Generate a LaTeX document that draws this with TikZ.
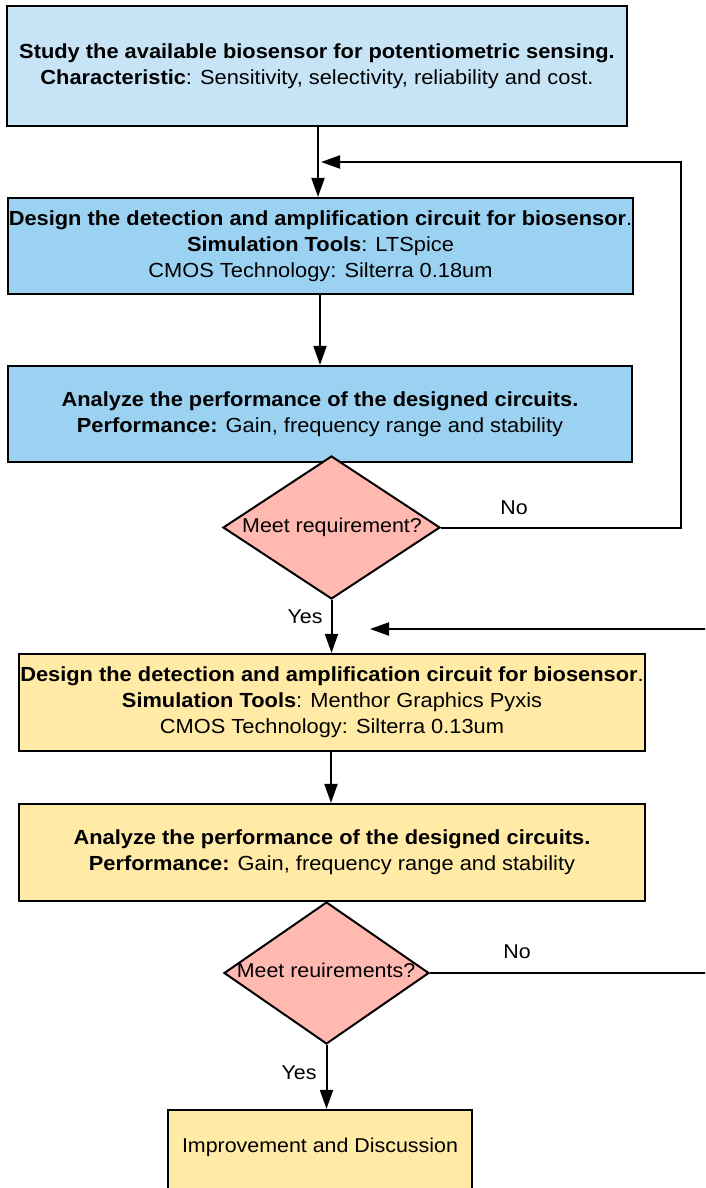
\documentclass[tikz,border=0pt]{standalone}
\usepackage{fontspec}
\setmainfont{Liberation Sans}[FakeStretch=1.07]
\usetikzlibrary{arrows.meta,shapes.geometric}
\definecolor{lblue}{HTML}{C6E4F6}
\definecolor{mblue}{HTML}{9BD2F2}
\definecolor{lyellow}{HTML}{FFEAA6}
\definecolor{pink}{HTML}{FFB9B1}
\begin{document}
\begin{tikzpicture}[x=1pt,y=-1pt,
  box/.style={draw=black, line width=2.2pt, rectangle, inner sep=0pt, align=center,
    font=\fontsize{20.4}{26}\selectfont},
  dia/.style={draw=black, line width=2pt, diamond, inner sep=0pt, fill=pink},
  dtext/.style={inner sep=0pt, font=\fontsize{20}{24}\selectfont},
  lbl/.style={inner sep=0pt, font=\fontsize{20}{24}\selectfont},
  conn/.style={draw=black, line width=2pt, -{Triangle[length=19pt,width=13pt]}},
  plain/.style={draw=black, line width=2pt}]
\clip (0,0) rectangle (705,1188);
\fill[white] (0,0) rectangle (705,1188);

\node[box, fill=lblue, minimum width=620pt, minimum height=120pt] (b1) at (317,66)
  {\textbf{Study the available biosensor for potentiometric sensing.}\\
   \textbf{Characteristic}: Sensitivity, selectivity, reliability and cost.};
\node[box, fill=mblue, minimum width=625pt, minimum height=96pt] (b2) at (320.5,246)
  {\textbf{Design the detection and amplification circuit for biosensor}.\\
   \textbf{Simulation Tools}: LTSpice\\
   CMOS Technology: Silterra 0.18um};
\node[box, fill=mblue, minimum width=624pt, minimum height=96pt] (b3) at (320,414)
  {\textbf{Analyze the performance of the designed circuits.}\\
   \textbf{Performance:} Gain, frequency range and stability};
\node[dia, minimum width=217pt, minimum height=143pt] (d1) at (331.5,527.5) {};
\node[dtext] (d1t) at (332,527) {Meet requirement?};

\node[box, fill=lyellow, minimum width=626pt, minimum height=97pt] (b4) at (332,702.5)
  {\textbf{Design the detection and amplification circuit for biosensor}.\\
   \textbf{Simulation Tools}: Menthor Graphics Pyxis\\
   CMOS Technology: Silterra 0.13um};
\node[box, fill=lyellow, minimum width=626pt, minimum height=97pt] (b5) at (332,852.5)
  {\textbf{Analyze the performance of the designed circuits.}\\
   \textbf{Performance:} Gain, frequency range and stability};
\node[dia, minimum width=205pt, minimum height=142pt] (d2) at (326.5,973) {};
\node[dtext] (d2t) at (326,970) {Meet reuirements?};

\node[box, fill=lyellow, minimum width=304pt, minimum height=100pt] (b6) at (320,1160) {};
\node[lbl] (b6t) at (320,1147) {Improvement and Discussion};

% connectors
\coordinate (m1) at (318,162);
\coordinate (r1) at (681,162);
\coordinate (r2) at (681,527.5);
\coordinate (e2a) at (720,629);
\coordinate (m2) at (370,629);
\coordinate (e2b) at (720,973);

\draw[conn] (b1.south -| 318,0) -- (b2.north -| 318,0);
\draw[conn] (d1.east) -- (r2) -- (r1) -- (m1 -| 321,0);
\draw[conn] (b2.south -| 320,0) -- (b3.north -| 320,0);
\draw[conn] (d1.south) -- (b4.north -| d1.south);
\draw[conn] (e2a) -- (m2);
\draw[conn] (b4.south -| 331,0) -- (b5.north -| 331,0);
\draw[plain] (d2.east) -- (e2b);
\draw[conn] (d2.south) -- (b6.north -| d2.south);

% labels
\node[lbl] (no1) at (514,508) {No};
\node[lbl] (yes1) at (305,617) {Yes};
\node[lbl] (no2) at (517,952) {No};
\node[lbl] (yes2) at (299,1073) {Yes};
\end{tikzpicture}
\end{document}
